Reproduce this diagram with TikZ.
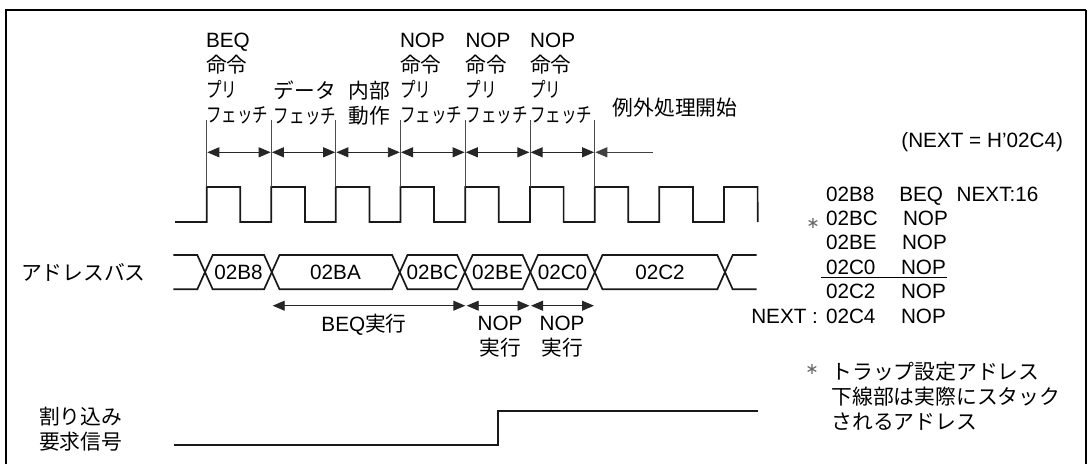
\documentclass[tikz,border=0pt]{standalone}
\usepackage{fontspec}
\setmainfont{Liberation Sans}
\newfontfamily\cjk{Noto Sans CJK JP}
\newfontfamily\cjkc[FakeStretch=0.75]{Noto Sans CJK JP}
\newfontfamily\djv{DejaVu Sans}
\usetikzlibrary{arrows.meta}
\tikzset{
  x=1pt,y=-1pt,
  txt/.style={inner sep=0pt,outer sep=0pt,font=\fontsize{20.7}{25}\selectfont},
  lhead/.style={txt,anchor=north west,align=left},
  chead/.style={txt,anchor=center,align=center},
  lab/.style={txt,anchor=center},
  lft/.style={txt,anchor=west},
  lst/.style={txt,anchor=base west},
  wave/.style={line width=1.7pt,line join=miter,black!90},
  tick/.style={line width=0.8pt,black!70},
  dim/.style={line width=0.9pt,black!85,{Triangle[length=12pt,width=10pt]}-{Triangle[length=12pt,width=10pt]}},
  dimleft/.style={line width=0.9pt,black!75,{Triangle[length=12pt,width=10pt]}-},
  frameline/.style={line width=2pt,black},
  starmark/.style={inner sep=0pt,outer sep=0pt,text=black!60,font=\djv\fontsize{16}{16}\selectfont},
}
\begin{document}
\begin{tikzpicture}
\useasboundingbox (0,0) rectangle (1088,464);
% frame
\draw[frameline] (6,464) -- (6,10) -- (1086,10);
\draw[line width=1.2pt] (1086,10) -- (1086,464);

% clock edge coordinates
\foreach \n/\xx in {1/206.7,2/271.3,3/335.8,4/400.4,5/465.2,6/530,7/594.7,8/659.3,9/724}{
  \coordinate (hi\n) at (\xx,187);
  \coordinate (lo\n) at (\xx,222);
  \coordinate (tp\n) at (\xx,120);
  \coordinate (ar\n) at (\xx,152.3);
}
\coordinate (clkstart) at (175,222);
\coordinate (clkend) at (757.7,222);
\coordinate (arfree) at (653,152.3);

% clock
\draw[wave] (clkstart) -- (lo1) -- (hi1) -- ++(33.6,0) |- (lo2) -- (hi2) -- ++(33.6,0) |- (lo3) -- (hi3) -- ++(33.6,0) |- (lo4) -- (hi4) -- ++(33.6,0) |- (lo5) -- (hi5) -- ++(33.6,0) |- (lo6) -- (hi6) -- ++(33.6,0) |- (lo7) -- (hi7) -- ++(33.6,0) |- (lo8) -- (hi8) -- ++(33.6,0) |- (lo9) -- (hi9) -- ++(33.6,0) -- (clkend);

% ticks and dimension arrows
\foreach \n in {1,...,7}{\draw[tick] (tp\n) -- (hi\n);}
\foreach \a/\b in {1/2,2/3,3/4,4/5,5/6,6/7}{\draw[dim] ([xshift=0.6pt]ar\a) -- ([xshift=-0.6pt]ar\b);}
\draw[dimleft] ([xshift=0.6pt]ar7) -- (arfree);

% headers
\node[lhead] (h1) at (206,33.5) {BEQ\\{\cjk 命令}\\{\cjkc プリ}\\{\cjkc フェッチ}};
\node[lhead] (h4) at (400,33.5) {NOP\\{\cjk 命令}\\{\cjkc プリ}\\{\cjkc フェッチ}};
\node[lhead] (h5) at (465.5,33.5) {NOP\\{\cjk 命令}\\{\cjkc プリ}\\{\cjkc フェッチ}};
\node[lhead] (h6) at (530.2,33.5) {NOP\\{\cjk 命令}\\{\cjkc プリ}\\{\cjkc フェッチ}};
\node[chead] (h2) at (305,103) {{\cjk データ}\\{\cjkc フェッチ}};
\node[chead] (h3) at (369.3,103) {{\cjk 内部}\\{\cjk 動作}};
\node[lft,font=\cjk\fontsize{20.8}{25}\selectfont] (exc) at (612.7,108) {例外処理開始};
\node[txt,anchor=east] (nextdef) at (1063,142) {(NEXT = H'02C4)};

% address bus
\node[lft,font=\cjk\fontsize{20.8}{25}\selectfont] (busname) at (21,272) {アドレスバス};
\def\bt{255} \def\bb{289.3} \def\bm{272.2}
\foreach \n/\xx in {a/205,b/271.8,c/399.8,d/464.9,e/530.3,f/594.8,g/725}{
  \coordinate (\n T) at (\xx,\bt);
  \coordinate (\n B) at (\xx,\bb);
}
\coordinate (busTs) at (173.3,\bt);
\coordinate (busBs) at (173.3,\bb);
\coordinate (busTe) at (756.7,\bt);
\coordinate (busBe) at (756.7,\bb);
\draw[wave,line join=miter] (busTs) -- ([xshift=-7.7pt]aT) -- ([xshift=7.7pt]aB) -- ([xshift=-7.7pt]bB) -- ([xshift=7.7pt]bT) -- ([xshift=-7.7pt]cT) -- ([xshift=7.7pt]cB) -- ([xshift=-7.7pt]dB) -- ([xshift=7.7pt]dT) -- ([xshift=-7.7pt]eT) -- ([xshift=7.7pt]eB) -- ([xshift=-7.7pt]fB) -- ([xshift=7.7pt]fT) -- ([xshift=-7.7pt]gT) -- ([xshift=7.7pt]gB) -- (busBe);
\draw[wave,line join=miter] (busBs) -- ([xshift=-7.7pt]aB) -- ([xshift=7.7pt]aT) -- ([xshift=-7.7pt]bT) -- ([xshift=7.7pt]bB) -- ([xshift=-7.7pt]cB) -- ([xshift=7.7pt]cT) -- ([xshift=-7.7pt]dT) -- ([xshift=7.7pt]dB) -- ([xshift=-7.7pt]eB) -- ([xshift=7.7pt]eT) -- ([xshift=-7.7pt]fT) -- ([xshift=7.7pt]fB) -- ([xshift=-7.7pt]gB) -- ([xshift=7.7pt]gT) -- (busTe);
\node[lab] (v1) at (238.5,272.5) {02B8};
\node[lab] (v2) at (335.5,272.5) {02BA};
\node[lab] (v3) at (432.5,272.5) {02BC};
\node[lab] (v4) at (497.5,272.5) {02BE};
\node[lab] (v5) at (562.5,272.5) {02C0};
\node[lab] (v6) at (660,272.5) {02C2};

% execution arrows
\coordinate (e1) at (272.7,305.7);
\coordinate (e2) at (465.3,305.7);
\coordinate (e3) at (466.7,305.7);
\coordinate (e4) at (529.5,305.7);
\coordinate (e5) at (531,305.7);
\coordinate (e6) at (594,305.7);
\draw[dim] (e1) -- (e2);
\draw[dim] (e3) -- (e4);
\draw[dim] (e5) -- (e6);
\node[lab] (x1) at (364,325) {BEQ{\cjk 実行}};
\node[chead] (x2) at (500,337) {NOP\\{\cjk 実行}};
\node[chead] (x3) at (562,337) {NOP\\{\cjk 実行}};

% interrupt
\node[lhead,font=\cjk\fontsize{20.8}{25}\selectfont,anchor=west] (irq) at (39,429) {割り込み\\要求信号};
\coordinate (i0) at (174,445);
\coordinate (i1) at (498.3,445);
\coordinate (i2) at (498.3,410.7);
\coordinate (i3) at (757.7,410.7);
\draw[wave] (i0) -- (i1) -- (i2) -- (i3);

% code listing
\node[lst] (a1) at (826,201.5) {02B8};
\node[lst] (a2) at (826,225.5) {02BC};
\node[lst] (a3) at (826,249.5) {02BE};
\node[lst] (a4) at (826,274.2) {02C0};
\node[lst] (a5) at (826,298.5) {02C2};
\node[lst] (a6) at (826,323.2) {02C4};
\node[lst] (b1) at (899.3,201.5) {BEQ};
\node[lst] (nx) at (956.7,201.5) {NEXT:16};
\node[lst] (b2) at (903,225.5) {NOP};
\node[lst] (b3) at (902,249.5) {NOP};
\node[lst] (b4) at (901,274.2) {NOP};
\node[lst] (b5) at (901,298.5) {NOP};
\node[lst] (b6) at (901,323.2) {NOP};
\node[txt,anchor=base east] (nl) at (818,323.2) {NEXT :};
\node[starmark] (st1) at (813,223) {∗};
\coordinate (ul1) at (821,277.3);
\coordinate (ul2) at (946.7,277.3);
\draw[line width=1pt] (ul1) -- (ul2);

% footnote
\node[starmark] (st2) at (812,369) {∗};
\node[lhead,font=\cjk\fontsize{20.8}{25}\selectfont,anchor=west] (fn) at (831.5,396.5) {トラップ設定アドレス\\下線部は実際にスタック\\されるアドレス};
\end{tikzpicture}
\end{document}
